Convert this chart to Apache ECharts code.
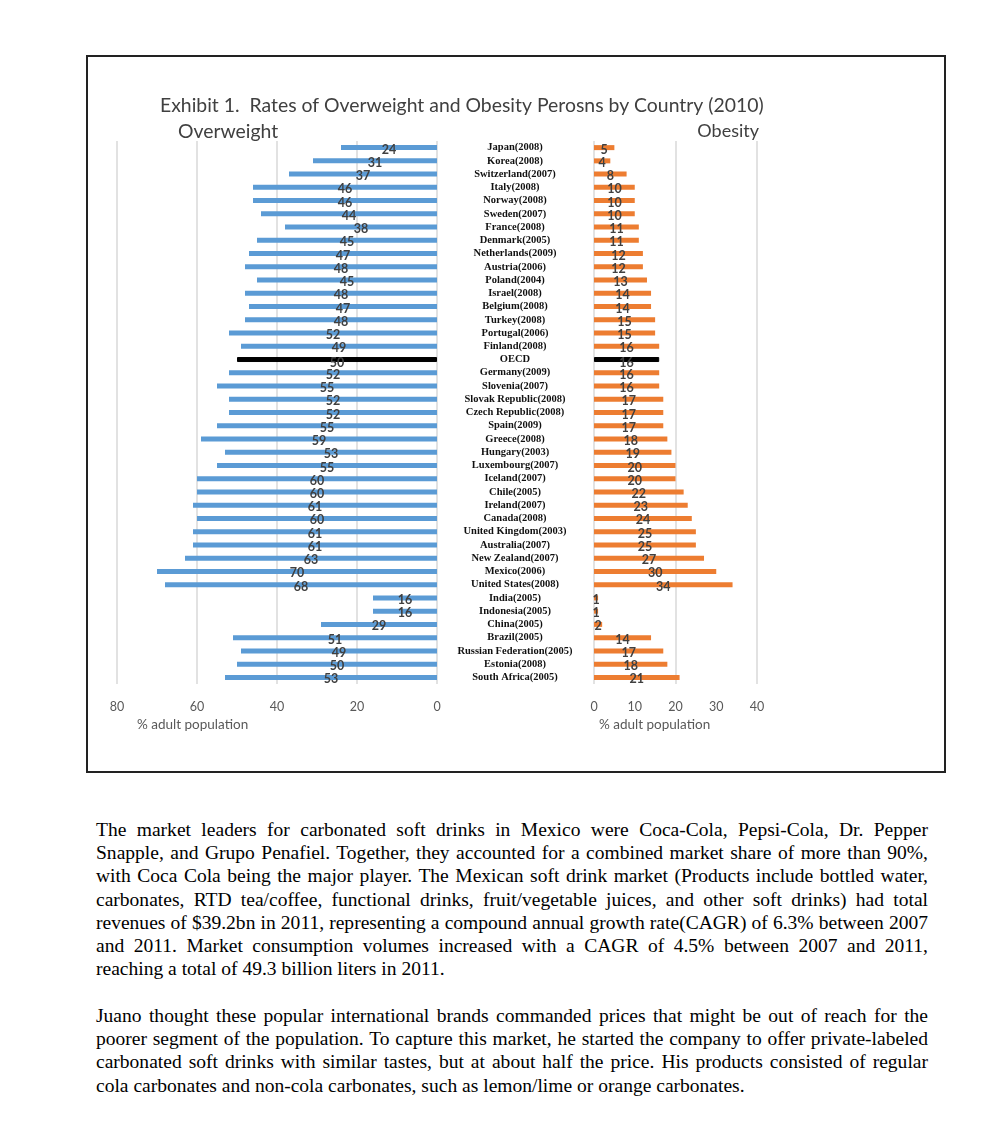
<!DOCTYPE html>
<html>
<head>
<meta charset="utf-8">
<script src="https://cdn.jsdelivr.net/npm/echarts@6/dist/echarts.min.js"></script>
<style>
  html, body { margin: 0; padding: 0; background: #fff; }
  #wrap { position: relative; width: 990px; height: 1142px; }
  #frame { position: absolute; left: 86px; top: 55px; width: 856px; height: 714px; border: 2px solid #222; }
  #chart { position: absolute; left: 0; top: 0; width: 990px; height: 790px; }
  .txt { position: absolute; left: 96px; width: 832px; font-family: "Liberation Serif", "Times New Roman", serif; font-size: 19.55px; color: #000; }
  .ln { height: 23.2px; line-height: 23.2px; white-space: nowrap; text-align: justify; text-align-last: justify; }
  .ln.last { text-align: left; text-align-last: left; }
</style>
</head>
<body>
<div id="wrap">
  <div id="frame"></div>
  <div id="chart"></div>
  <div class="txt" style="top:818px">
    <div class="ln">The market leaders for carbonated soft drinks in Mexico were Coca-Cola, Pepsi-Cola, Dr. Pepper</div>
    <div class="ln">Snapple, and Grupo Penafiel. Together, they accounted for a combined market share of more than 90%,</div>
    <div class="ln">with Coca Cola being the major player. The Mexican soft drink market (Products include bottled water,</div>
    <div class="ln">carbonates, RTD tea/coffee, functional drinks, fruit/vegetable juices, and other soft drinks) had total</div>
    <div class="ln">revenues of $39.2bn in 2011, representing a compound annual growth rate(CAGR) of 6.3% between 2007</div>
    <div class="ln">and 2011. Market consumption volumes increased with a CAGR of 4.5% between 2007 and 2011,</div>
    <div class="ln last">reaching a total of 49.3 billion liters in 2011.</div>
  </div>
  <div class="txt" style="top:1004px">
    <div class="ln">Juano thought these popular international brands commanded prices that might be out of reach for the</div>
    <div class="ln">poorer segment of the population. To capture this market, he started the company to offer private-labeled</div>
    <div class="ln">carbonated soft drinks with similar tastes, but at about half the price. His products consisted of regular</div>
    <div class="ln last">cola carbonates and non-cola carbonates, such as lemon/lime or orange carbonates.</div>
  </div>
</div>
<script>
const categories = [
  "Japan(2008)", "Korea(2008)", "Switzerland(2007)", "Italy(2008)", "Norway(2008)", "Sweden(2007)",
  "France(2008)", "Denmark(2005)", "Netherlands(2009)", "Austria(2006)", "Poland(2004)", "Israel(2008)",
  "Belgium(2008)", "Turkey(2008)", "Portugal(2006)", "Finland(2008)", "OECD", "Germany(2009)",
  "Slovenia(2007)", "Slovak Republic(2008)", "Czech Republic(2008)", "Spain(2009)", "Greece(2008)",
  "Hungary(2003)", "Luxembourg(2007)", "Iceland(2007)", "Chile(2005)", "Ireland(2007)", "Canada(2008)",
  "United Kingdom(2003)", "Australia(2007)", "New Zealand(2007)", "Mexico(2006)", "United States(2008)",
  "India(2005)", "Indonesia(2005)", "China(2005)", "Brazil(2005)", "Russian Federation(2005)",
  "Estonia(2008)", "South Africa(2005)"
];
const overweight = [24, 31, 37, 46, 46, 44, 38, 45, 47, 48, 45, 48, 47, 48, 52, 49, 50, 52, 55, 52, 52, 55, 59, 53, 55, 60, 60, 61, 60, 61, 61, 63, 70, 68, 16, 16, 29, 51, 49, 50, 53];
const obesity = [5, 4, 8, 10, 10, 10, 11, 11, 12, 12, 13, 14, 14, 15, 15, 16, 16, 16, 16, 17, 17, 17, 18, 19, 20, 20, 22, 23, 24, 25, 25, 27, 30, 34, 1, 1, 2, 14, 17, 18, 21];
const leftTicks = [0, 20, 40, 60, 80];
const rightTicks = [0, 10, 20, 30, 40];
const highlight = "OECD";

const blue = '#5B9BD5', orange = '#ED7D31';
function items(arr) {
  return arr.map((v, i) => categories[i] === highlight
    ? { value: v, itemStyle: { color: '#000', borderColor: '#000', borderWidth: 1 }, label: { offset: [0, 3] } }
    : v);
}
const labelStyle = { show: true, position: 'inside', color: '#404040', fontFamily: 'Lato', fontWeight: 'bold', fontSize: 12.5, offset: [0, 2] };
const tickFont = { color: '#595959', fontFamily: 'Lato', fontSize: 12.5 };
const headFont = { fontFamily: 'Lato', fontSize: 19.4, fontWeight: 'normal', color: '#404040' };
const nameFont = { fontFamily: 'Lato', fontSize: 13.5, fontWeight: 'normal', color: '#595959' };

const chart = echarts.init(document.getElementById('chart'), null, { renderer: 'canvas' });
chart.setOption({
  animation: false,
  title: [
    { text: 'Exhibit 1.  Rates of Overweight and Obesity Perosns by Country (2010)', left: 155, top: 91, textStyle: headFont },
    { text: 'Overweight', left: 173, top: 117, textStyle: headFont },
    { text: 'Obesity', right: 226, top: 117, textStyle: Object.assign({}, headFont, { fontSize: 18 }) },
    { text: '% adult population', left: 132, top: 713, textStyle: nameFont },
    { text: '% adult population', left: 594, top: 713, textStyle: nameFont }
  ],
  grid: [
    { left: 117, width: 320, top: 141, height: 543 },
    { left: 594, width: 163, top: 141, height: 543 }
  ],
  xAxis: [
    { gridIndex: 0, type: 'value', inverse: true, min: leftTicks[0], max: leftTicks[leftTicks.length - 1], interval: 20,
      axisLine: { show: false }, axisTick: { show: false },
      axisLabel: Object.assign({ margin: 16 }, tickFont),
      splitLine: { show: true, lineStyle: { color: '#d9d9d9', width: 1.5 } } },
    { gridIndex: 1, type: 'value', min: rightTicks[0], max: rightTicks[rightTicks.length - 1], interval: 10,
      axisLine: { show: false }, axisTick: { show: false },
      axisLabel: Object.assign({ margin: 16 }, tickFont),
      splitLine: { show: false } },
    { gridIndex: 1, type: 'value', position: 'top', min: 0, max: 40, interval: 20,
      axisLine: { show: false }, axisTick: { show: false }, axisLabel: { show: false },
      splitLine: { show: true, lineStyle: { color: '#d9d9d9', width: 1.5 } } }
  ],
  yAxis: [
    { gridIndex: 0, type: 'category', data: categories, inverse: true, position: 'right',
      axisLine: { show: false }, axisTick: { show: false },
      axisLabel: { interval: 0, align: 'center', margin: 78, fontFamily: 'Liberation Serif', fontWeight: 'bold', fontSize: 10.5, color: '#111' } },
    { gridIndex: 1, type: 'category', data: categories, inverse: true,
      axisLine: { show: false }, axisTick: { show: false }, axisLabel: { show: false } }
  ],
  series: [
    { name: 'Overweight', type: 'bar', xAxisIndex: 0, yAxisIndex: 0, barWidth: 5,
      itemStyle: { color: blue }, label: labelStyle, data: items(overweight) },
    { name: 'Obesity', type: 'bar', xAxisIndex: 1, yAxisIndex: 1, barWidth: 5,
      itemStyle: { color: orange }, label: labelStyle, data: items(obesity) }
  ]
});
</script>
</body>
</html>
